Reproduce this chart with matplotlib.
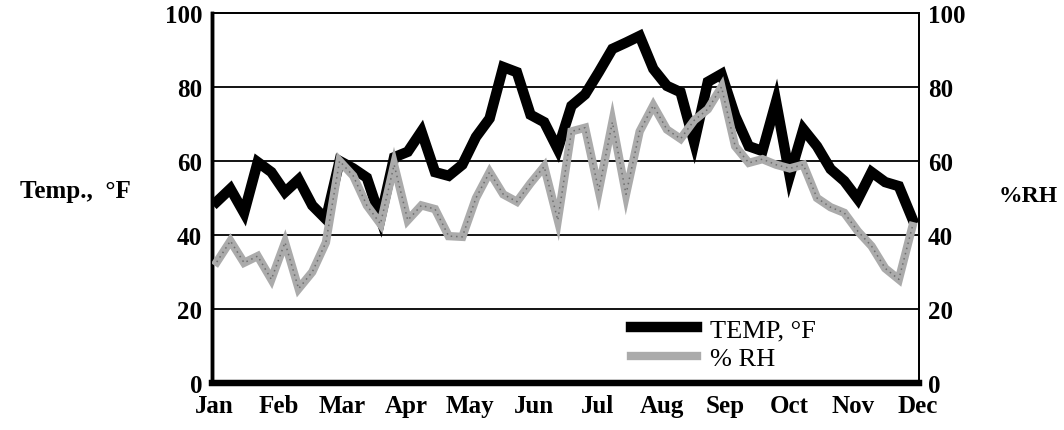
import numpy as np
import matplotlib
matplotlib.use("Agg")
from matplotlib import pyplot as plt
from matplotlib.lines import Line2D

# weekly readings, Jan .. Dec
temp_f = [49, 52.5, 46, 59.7, 57, 51.6, 55, 48, 44.3, 60,
          58, 55.5, 44.5, 61, 62.5, 68, 57, 56, 59, 66.5,
          71.5, 85.4, 84, 72.5, 70.5, 63.2, 74.9, 78, 84, 90.3,
          92, 93.8, 84.9, 80.3, 78.6, 65, 81.4, 83.5, 72.2, 64,
          62.7, 76, 56, 68.6, 64, 57.8, 54.6, 49.7, 57, 54.3,
          53.2, 44.3]
rh_pct = [32.7, 38.4, 32.5, 34.3, 28, 38, 25.5, 30, 38, 60,
          56, 48, 43, 59, 44, 48, 47, 39.7, 39.5, 50,
          57, 51, 49, 54, 58.5, 44, 68, 69, 52, 70.5,
          51, 68, 75, 68.5, 66, 71, 74, 80, 64, 59.5,
          60.5, 59, 58, 59, 50, 47.5, 46, 41, 37, 31,
          28, 42.4]
months = ["Jan", "Feb", "Mar", "Apr", "May", "Jun",
          "Jul", "Aug", "Sep", "Oct", "Nov", "Dec"]
y_ticks = [0, 20, 40, 60, 80, 100]

serif = ["Liberation Serif", "DejaVu Serif"]
plt.rcParams["font.family"] = serif

weeks = np.arange(len(temp_f))

fig = plt.figure(figsize=(10.64, 4.31), dpi=100)
ax = fig.add_axes([0.199, 0.109, 0.665, 0.8585])
ax.set_xlim(-0.37, 51.5)
ax.set_ylim(0, 100)

for y in y_ticks[1:-1]:
    ax.axhline(y, color="black", lw=1.3, zorder=1)

ax.plot(weeks, temp_f, color="black", lw=7.5, solid_joinstyle="miter", zorder=3)

ax2 = ax.twinx()
ax2.set_ylim(0, 100)
ax2.plot(weeks, rh_pct, color="#ababab", lw=6, solid_joinstyle="miter", zorder=3)
ax2.plot(weeks, rh_pct, color="#6e6e6e", lw=1.1, ls=(0, (1, 2.5)), zorder=4)

ax.set_xticks(np.linspace(-0.15, 51.35, 12))
ax.set_xticklabels(months, fontsize=18, fontweight="bold")
ax.set_yticks(y_ticks)
ax.set_yticklabels(y_ticks, fontsize=18, fontweight="bold")
ax2.set_yticks(y_ticks)
ax2.set_yticklabels(y_ticks, fontsize=18, fontweight="bold")
ax.tick_params(axis="x", length=0, pad=8)
ax.tick_params(axis="y", length=0, pad=7)
ax2.tick_params(axis="y", length=0, pad=6)

for a in (ax, ax2):
    a.spines["top"].set_linewidth(1.3)
    a.spines["right"].set_linewidth(1.3)
    a.spines["left"].set_linewidth(2.5)
    a.spines["bottom"].set_linewidth(4.5)

fig.text(0.0705, 0.555, "Temp.,  °F", fontsize=18, fontweight="bold",
         ha="center", va="center")
fig.text(0.966, 0.545, "%RH", fontsize=17, fontweight="bold",
         ha="center", va="center")

handles = [Line2D([], [], color="black", lw=7.5),
           Line2D([], [], color="#ababab", lw=6)]
leg = ax2.legend(handles, ["TEMP, °F", "% RH"], loc="center left",
                 bbox_to_anchor=(0.592, 0.105), frameon=False,
                 fontsize=19, handlelength=2.5, handletextpad=0.5,
                 labelspacing=0.2, borderaxespad=0, borderpad=0)

fig.savefig("out.png", dpi=100)
